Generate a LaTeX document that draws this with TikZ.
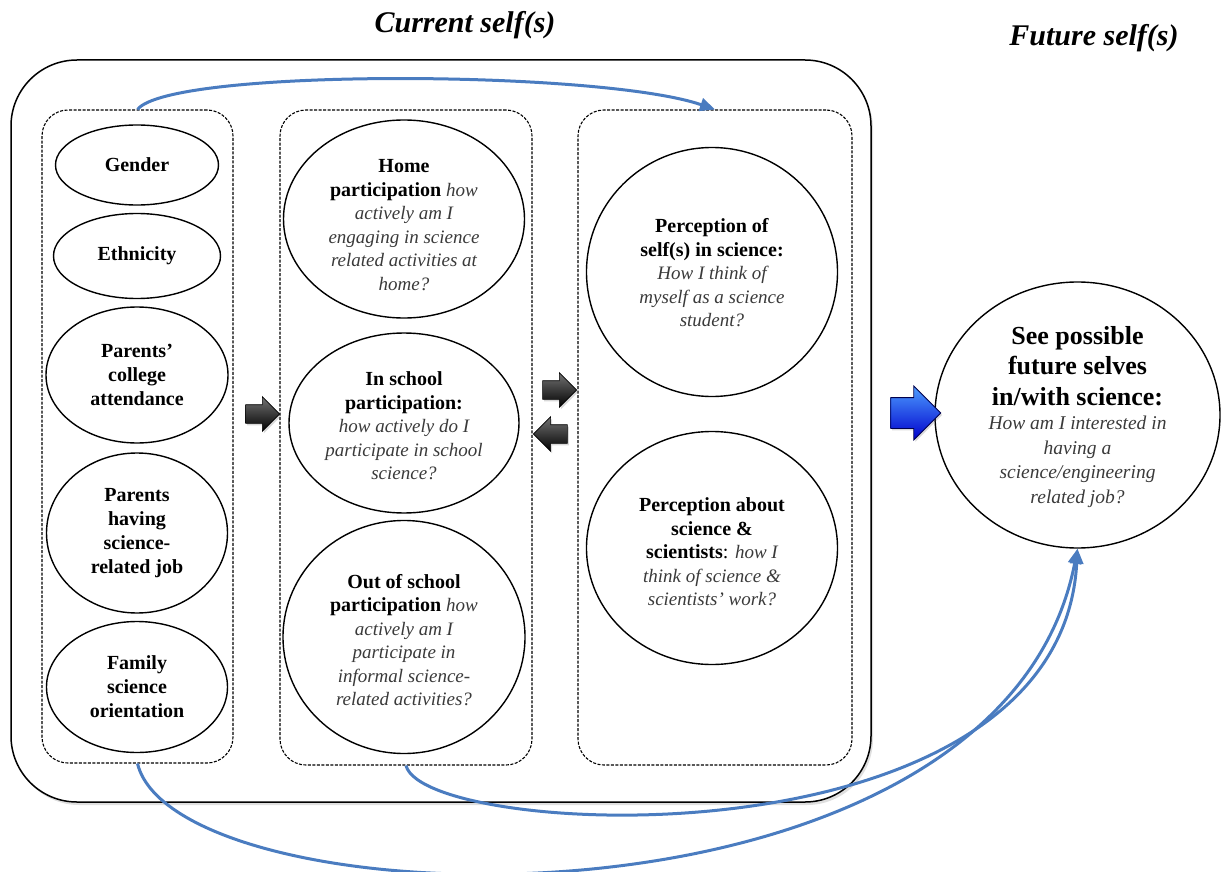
\documentclass[tikz,border=0pt]{standalone}
\usepackage{fontspec}
\setmainfont{Liberation Serif}
\usetikzlibrary{shapes.geometric,shapes.arrows,arrows.meta,shadows}
\definecolor{linkblue}{RGB}{74,124,192}
\definecolor{qgray}{RGB}{58,58,58}
\newcommand\qtext[1]{{\fontsize{19}{23.5}\selectfont\itshape\color{qgray}#1}}
\begin{document}
\begin{tikzpicture}[x=1pt,y=-1pt,
    oval/.style 2 args={ellipse,draw,line width=1.4pt,minimum width=#1,minimum height=#2,inner sep=0pt},
    grp/.style={draw,dash pattern=on 3pt off 1.5pt,line width=1.1pt,rounded corners=26,inner sep=0pt},
    lbl/.style={align=center,font=\fontsize{20}{24}\selectfont\bfseries},
    txt/.style={align=center,font=\fontsize{20}{23.5}\selectfont},
    title/.style={font=\fontsize{30}{34}\selectfont\bfseries\itshape},
    darkarr/.style={single arrow,minimum height=34,inner xsep=0pt,inner ysep=9pt,single arrow head extend=8pt,
        top color=black!55,bottom color=black,draw=black,line width=0.6pt,
        drop shadow={opacity=0.3,shadow xshift=1.5pt,shadow yshift=-2pt}},
    bluearr/.style={single arrow,minimum height=50,inner xsep=0pt,inner ysep=15pt,single arrow head extend=11.5pt,
        top color=blue!55!cyan!70!white,bottom color=blue!80!black,draw=blue!30!black,line width=0.8pt,
        drop shadow={opacity=0.3,shadow xshift=1.5pt,shadow yshift=-2pt}},
    link/.style={draw=linkblue,line width=3pt,-{Triangle[length=15pt,width=13pt]}}]
    \useasboundingbox (0,0) rectangle (1221,872);

    \node[title] (curtitle) at (465,25) {Current self(s)};
    \node[title] (futtitle) at (1094,38) {Future self(s)};

    \node[draw,line width=1.5pt,rounded corners=66,minimum width=860,minimum height=742,inner sep=0pt,fill=white,
        drop shadow={opacity=0.25,shadow xshift=2pt,shadow yshift=-3pt}] (cur) at (441,431) {};

    \node[grp,minimum width=191,minimum height=653] (grp1) at (137.5,436.5) {};
    \node[grp,minimum width=252,minimum height=655] (grp2) at (406,437.5) {};
    \node[grp,minimum width=274,minimum height=655] (grp3) at (715,437.5) {};

    \foreach \nm/\y/\w/\h/\t in {g1/165/163/80/Gender, g2/256/167/85/Ethnicity,
            g3/375/182/136/{Parents'\\college\\attendance}, g4/533/181/160/{Parents\\having\\science-\\related job},
            g5/687/181/131/{Family\\science\\orientation}}
    {
        \node[oval={\w}{\h}] (\nm) at (137,\y) {};
        \node[lbl] (\nm-t) at (\nm) {\t};
    }

    \node[oval={241}{198}] (home) at (404,219) {};
    \node[txt] (home-t) at (404,225) {\textbf{Home}\\\textbf{participation} \qtext{how}\\\qtext{actively am I}\\
        \qtext{engaging in science}\\\qtext{related activities at}\\\qtext{home?}};
    \node[oval={230}{180}] (insch) at (404,423) {};
    \node[txt] (insch-t) at (404,426) {\textbf{In school}\\\textbf{participation:}\\\qtext{how actively do I}\\
        \qtext{participate in school}\\\qtext{science?}};
    \node[oval={242}{233}] (outsch) at (404,637) {};
    \node[txt] (outsch-t) at (404,640) {\textbf{Out of school}\\\textbf{participation} \qtext{how}\\\qtext{actively am I}\\
        \qtext{participate in}\\\qtext{informal science-}\\\qtext{related activities?}};

    \node[oval={251}{249}] (pself) at (712,272) {};
    \node[txt] (pself-t) at (712,273) {\textbf{Perception of}\\\textbf{self(s) in science:}\\\qtext{How I think of}\\
        \qtext{myself as a science}\\\qtext{student?}};
    \node[oval={251}{233}] (psci) at (712,548) {};
    \node[txt] (psci-t) at (712,552) {\textbf{Perception about}\\\textbf{science \&}\\\textbf{scientists}: \qtext{how I}\\
        \qtext{think of science \&}\\\qtext{scientists' work?}};

    \node[oval={285}{266}] (future) at (1077.5,415) {};
    \node[align=center,font=\fontsize{19.5}{24.5}\selectfont] (future-t) at (1077.5,417)
        {{\fontsize{26}{31}\selectfont\bfseries See possible}\\[6pt]{\fontsize{26}{31}\selectfont\bfseries future selves}\\[6pt]
        {\fontsize{26}{31}\selectfont\bfseries in/with science:}\\\qtext{\fontsize{19.5}{24.5}\selectfont How am I interested in}\\
        \qtext{\fontsize{19.5}{24.5}\selectfont having a}\\\qtext{\fontsize{19.5}{24.5}\selectfont science/engineering}\\
        \qtext{\fontsize{19.5}{24.5}\selectfont related job?}};

    \node[darkarr] (a1) at (258,414) {};
    \node[darkarr] (a2) at (555,390) {};
    \node[darkarr,shape border rotate=180] (a3) at (555,434) {};
    \node[bluearr] (a4) at (908,413) {};

    \draw[link] (grp1.north) .. controls (170,68) and (600,70) .. (grp3.north);
    \draw[link] (grp2.south) .. controls (425,840) and (1060,870) .. (future.south);
    \draw[link] (grp1.south) .. controls (177,925) and (1000,950) .. (future.south);
\end{tikzpicture}
\end{document}
